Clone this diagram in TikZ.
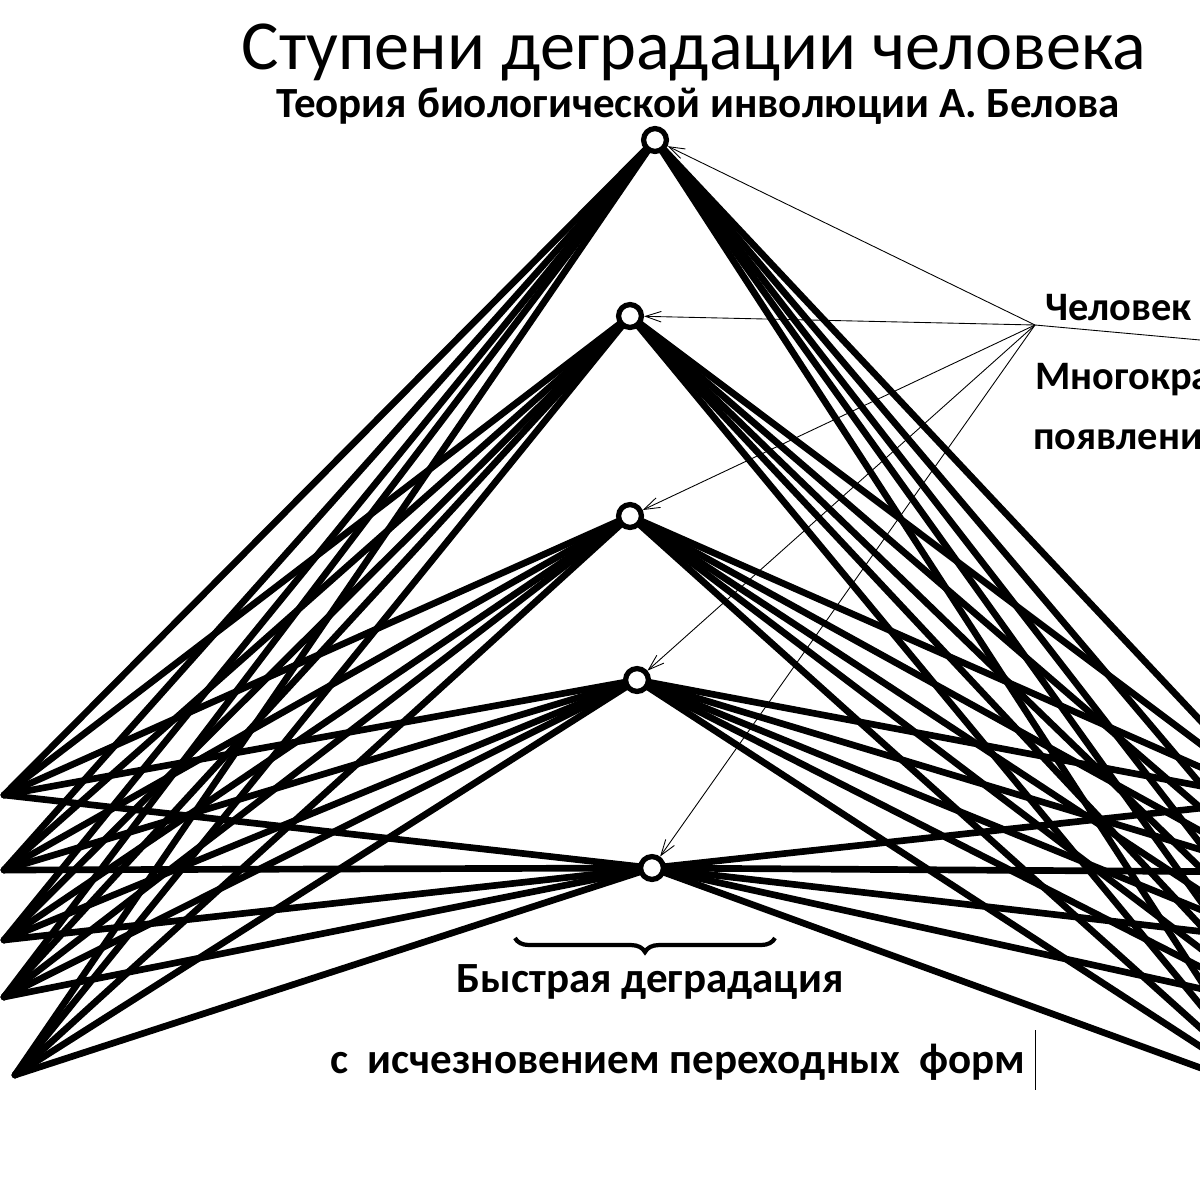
\documentclass[tikz,border=0pt]{standalone}
\usepackage{fontspec}
\setmainfont{Carlito}
\usetikzlibrary{arrows.meta,decorations.pathreplacing}
\tikzset{
  fan/.style={line width=3.8pt, line cap=round},
  stage/.style={circle, draw, line width=3pt, fill=white, minimum size=13pt, inner sep=0pt},
  pointer/.style={line width=0.5pt, -{Straight Barb[length=9pt,width=6pt]}},
  lbl/.style={font=\fontsize{24.5}{28}\selectfont\bfseries, inner sep=0pt},
  sidelbl/.style={font=\fontsize{23}{26}\selectfont\bfseries, inner sep=0pt, anchor=west},
}
\begin{document}
\begin{tikzpicture}[x=0.02cm,y=-0.02cm]
\useasboundingbox (0,0) rectangle (1200,1200);
\clip (0,0) rectangle (1200,1200);
\fill[white] (0,0) rectangle (1200,1200);
% endpoints
\coordinate (l1) at (4,795);
\coordinate (l2) at (4,870);
\coordinate (l3) at (4,940);
\coordinate (l4) at (4,997);
\coordinate (l5) at (15,1075);
\coordinate (r1) at (1275,800);
\coordinate (r2) at (1275,872);
\coordinate (r3) at (1275,940);
\coordinate (r4) at (1275,1005);
\coordinate (r5) at (1275,1095);
% stage nodes positions
\coordinate (p1) at (655,140);
\coordinate (p2) at (630,316);
\coordinate (p3) at (630,516);
\coordinate (p4) at (637,680);
\coordinate (p5) at (652,868);
\foreach \i in {1,...,5}{
  \foreach \j in {1,...,5}{
    \draw[fan] (p\i) -- (l\j);
    \draw[fan] (p\i) -- (r\j);
  }
}
\foreach \i in {1,...,5}{
  \node[stage] (n\i) at (p\i) {};
}
% titles
\node[inner sep=0pt, font=\fontsize{40}{42}\selectfont] (title) at (694,52) {Ступени деградации человека};
\node[inner sep=0pt, font=\fontsize{24.5}{28}\selectfont\bfseries] (sub) at (698,106) {Теория биологической инволюции А. Белова};
% right labels
\node[sidelbl] (man) at (1045,308) {Человек};
\node[sidelbl] (mult) at (1035,380) {Многокра};
\node[sidelbl] (app) at (1033,440) {появлени};
\coordinate (c) at (1035,325);
\coordinate (edge) at (1200,340);
\draw[line width=0.5pt] (c) -- (edge);
\foreach \i in {1,...,5}{
  \draw[pointer] (c) -- (n\i);
}
% bottom
\coordinate (b1) at (515,938);
\coordinate (b2) at (775,938);
\draw[line width=2.4pt, decorate, decoration={brace, mirror, amplitude=8pt}] (b1) -- (b2);
\node[lbl] (fast) at (650,982) {Быстрая деградация};
\node[lbl] (trans) at (678,1062) {с\ \ исчезновением переходных\ \ форм};
\coordinate (v1) at (1035,1030);
\coordinate (v2) at (1035,1090);
\draw[line width=0.5pt] (v1) -- (v2);
\end{tikzpicture}
\end{document}
